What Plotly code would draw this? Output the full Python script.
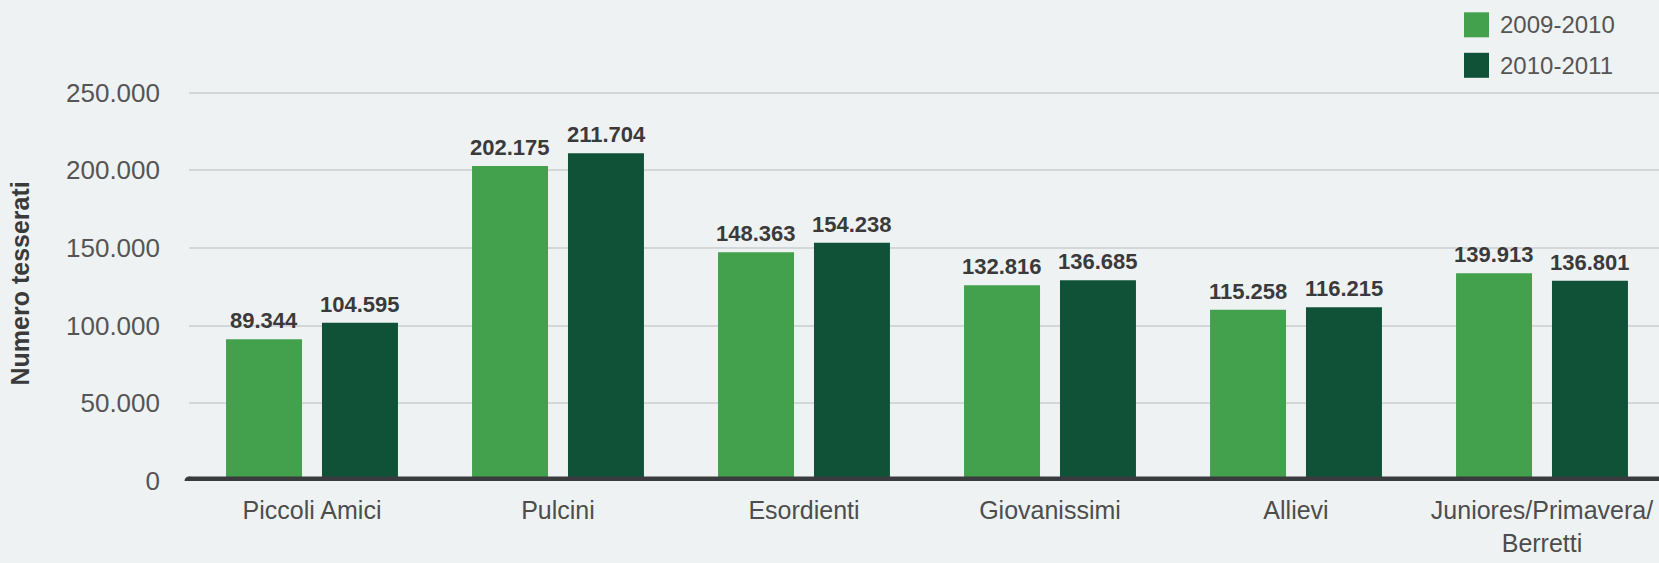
import plotly.graph_objects as go

categories = ["Piccoli Amici", "Pulcini", "Esordienti", "Giovanissimi", "Allievi",
              "Juniores/Primavera/<br>Berretti"]
series_names = ["2009-2010", "2010-2011"]
# bar heights as drawn in the picture
values_0910 = [91200, 202800, 147300, 126000, 110300, 133700]
values_1011 = [101900, 211000, 153400, 129200, 111800, 129000]
# printed labels
labels_0910 = ["89.344", "202.175", "148.363", "132.816", "115.258", "139.913"]
labels_1011 = ["104.595", "211.704", "154.238", "136.685", "116.215", "136.801"]
y_ticks = [0, 50000, 100000, 150000, 200000, 250000]

colors = ["#43a04d", "#105238"]
BG = "#eff2f3"
W, H = 1659, 563
ML, MR, MT, MB = 189, 0, 86, 82
PW, PH = W - ML - MR, H - MT - MB
FONT = "Liberation Sans"

fig = go.Figure()
for name, vals, col in [(series_names[0], values_0910, colors[0]),
                        (series_names[1], values_1011, colors[1])]:
    fig.add_trace(go.Bar(
        x=categories, y=vals, name=name, marker=dict(color=col, line=dict(width=0)),
        showlegend=False,
    ))

def px_x(px):
    return (px - ML) / PW

def px_y(py):
    return (H - MB - py) / PH

shapes = [
    dict(type="line", xref="paper", yref="y", x0=0, x1=1, y0=200000, y1=200000,
         line=dict(color="#5e9c7e", width=1.5), layer="between"),
    dict(type="line", xref="paper", yref="y", x0=0, x1=1, y0=0, y1=0,
         line=dict(color="#3a3b3f", width=9), layer="above"),
    dict(type="circle", xref="paper", yref="y", xsizemode="pixel", ysizemode="pixel",
         xanchor=0, yanchor=0, x0=-4.5, x1=4.5, y0=-4.5, y1=4.5,
         fillcolor="#3a3b3f", line=dict(width=0), layer="above"),
]
annotations = [
    dict(text="Numero tesserati", xref="paper", yref="paper", x=0, y=0.5, xshift=-170,
         xanchor="center", yanchor="middle", textangle=-90, showarrow=False,
         font=dict(family=FONT, size=25, color="#3a3a3a", weight="bold")),
]
# value labels above bars
for vals, labs, shift in [(values_0910, labels_0910, -48), (values_1011, labels_1011, 48)]:
    for c, v, t in zip(categories, vals, labs):
        annotations.append(dict(
            text=t, x=c, y=v, xref="x", yref="y", xshift=shift, yshift=4,
            xanchor="center", yanchor="bottom", showarrow=False,
            font=dict(family=FONT, size=22, color="#3a3a3a", weight="bold")))
# manual legend
for i, (name, col) in enumerate(zip(series_names, colors)):
    top = 12.3 + i * 40.5
    shapes.append(dict(type="rect", xref="paper", yref="paper",
                       x0=px_x(1464), x1=px_x(1489), y0=px_y(top + 25), y1=px_y(top),
                       fillcolor=col, line=dict(width=0)))
    annotations.append(dict(text=name, xref="paper", yref="paper", x=px_x(1498),
                            y=px_y(top + 12.5), xanchor="left", yanchor="middle",
                            showarrow=False,
                            font=dict(family=FONT, size=24, color="#555555")))

fig.update_layout(
    width=W, height=H,
    margin=dict(l=ML, r=MR, t=MT, b=MB, pad=0),
    paper_bgcolor=BG, plot_bgcolor=BG,
    separators=",.",
    barmode="group", bargap=0.22, bargroupgap=0.208,
    font=dict(family=FONT, color="#555555"),
    shapes=shapes, annotations=annotations,
    showlegend=False,
)
fig.update_xaxes(
    range=[-0.5, -0.5 + PW / 246.0], showgrid=False, showline=False, zeroline=False,
    ticks="", ticklabelstandoff=12,
    tickfont=dict(family=FONT, size=25, color="#4d4d4d"),
)
fig.update_yaxes(
    range=[0, 254300], tickvals=y_ticks, tickformat=",d",
    showgrid=True, gridcolor="#d4d7d9", gridwidth=1.5, zeroline=False, showline=False,
    ticks="", ticklabelstandoff=28,
    tickfont=dict(family=FONT, size=26, color="#555555"),
)

fig.write_html(
    "out.html",
    config={"displayModeBar": False},
    post_script="document.documentElement.style.margin='0';document.body.style.margin='0';"
                "document.body.style.padding='0';document.body.style.overflow='hidden';"
                "document.body.style.background='#eff2f3';",
)
